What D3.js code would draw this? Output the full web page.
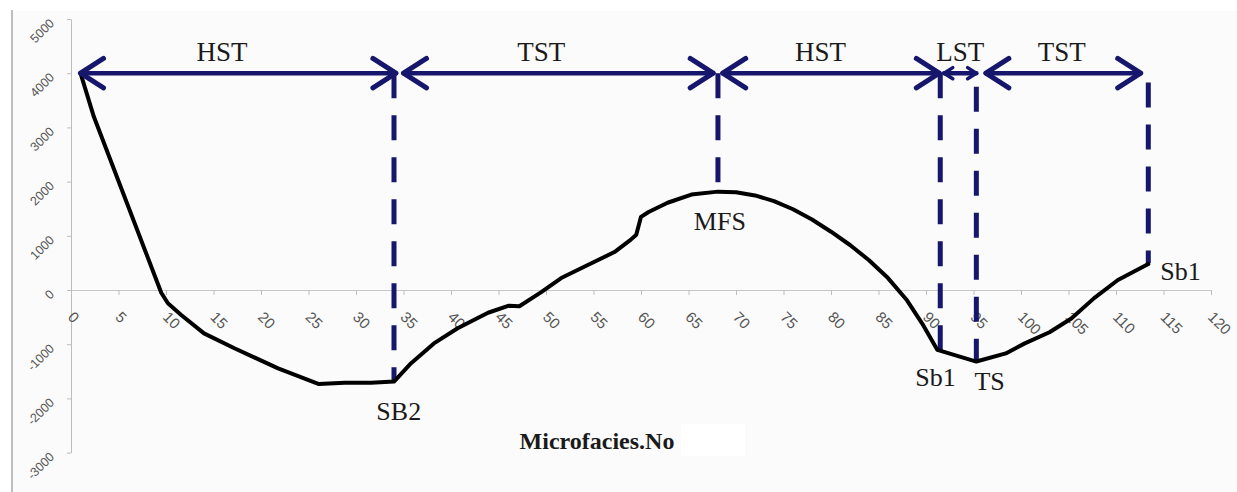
<!DOCTYPE html>
<html>
<head>
<meta charset="utf-8">
<script src="https://cdn.jsdelivr.net/npm/d3@7"></script>
<style>
  body { margin: 0; background: #ffffff; }
  svg { display: block; }
</style>
</head>
<body>
<div class="chart"></div>
<script>
// Sea-level curve data (microfacies number vs relative level)
const microfacies = [1, 2.4, 9.5, 10.2, 11.6, 14, 17.2, 21.8, 26.1, 28.8, 31.6, 34,
    35.8, 38.2, 40.7, 43.9, 46.1, 47.2, 49.5, 51.6, 54.4, 57.2, 58.9, 59.5, 60, 60.8,
    62.8, 65.3, 68.1, 70, 72, 74, 76, 78, 80, 82, 84, 86, 88, 89.6, 91.2, 95.3,
    98.4, 100.4, 103, 105.3, 107.7, 110.2, 113.4];
const seaLevel = [4000, 3200, -50, -245, -460, -800, -1075, -1445, -1735, -1710, -1710, -1690,
    -1350, -985, -705, -420, -290, -300, -40, 220, 460, 700, 925, 1020, 1350, 1440,
    1610, 1760, 1815, 1805, 1745, 1640, 1490, 1300, 1075, 830, 550, 220, -190, -620, -1105, -1320,
    -1170, -985, -780, -525, -150, 185, 480];

// Systems tracts (double arrows along the top)
const phaseNames = ['HST', 'TST', 'HST', 'LST', 'TST'];
const phaseStart = [1, 35, 68.6, 91.9, 96.3];
const phaseEnd = [34.2, 67.6, 91.4, 95.3, 112.6];
const phaseLabelX = [15.9, 49.5, 78.9, 93.6, 104.3];
const phaseLevel = 4000;

// Surfaces (dashed verticals)
const surfaceNames = ['SB2', 'MFS', 'Sb1', 'TS', 'Sb1'];
const surfaceX = [34, 68.1, 91.5, 95.3, 113.4];
const surfaceTop = [4000, 4000, 4000, 3750, 3830];
const surfaceBottom = [-1690, 1930, -1110, -1300, 500];
const surfaceLabelX = [34.5, 68.3, 91, 96.7, 116.8];
const surfaceLabelY = [-2400, 1107, -1771, -1845, 185];

const xTickValues = [0, 5, 10, 15, 20, 25, 30, 35, 40, 45, 50, 55, 60, 65, 70, 75, 80,
    85, 90, 95, 100, 105, 110, 115, 120];
const yTickValues = [-3000, -2000, -1000, 0, 1000, 2000, 3000, 4000, 5000];
const xTitle = 'Microfacies.No';

const width = 1237;
const height = 492;
const navy = '#16166c';

const x = d3.scaleLinear().domain([0, 120]).range([71, 1211]);
const y = d3.scaleLinear().domain([-3000, 5000]).range([452.6, 19]);

const svg = d3.select('.chart')
    .append('svg')
    .attr('width', width)
    .attr('height', height);

// plot background + left border
svg.append('rect')
    .attr('x', 12).attr('y', 11)
    .attr('width', width - 12).attr('height', height - 11)
    .attr('fill', '#fbfbfb');
svg.append('line')
    .attr('x1', 12).attr('x2', 12).attr('y1', 10).attr('y2', height)
    .attr('stroke', '#a8a8a8').attr('stroke-width', 1.5);

// Axes
const xAxis = svg.append('g')
    .attr('transform', `translate(0, ${y(0)})`)
    .call(d3.axisBottom(x).tickValues(xTickValues).tickSize(5).tickSizeOuter(0).tickFormat(''));
xAxis.select('.domain').attr('stroke', '#c8c8c8');
xAxis.selectAll('.tick line').attr('stroke', '#bdbdbd');

const yAxis = svg.append('g')
    .attr('transform', `translate(${x(0)}, 0)`)
    .call(d3.axisLeft(y).tickValues(yTickValues).tickSize(4).tickSizeOuter(0).tickFormat(''));
yAxis.select('.domain').attr('stroke', '#bdbdbd');
yAxis.selectAll('.tick line').attr('stroke', '#bdbdbd');

svg.append('g').selectAll('text')
    .data(xTickValues)
    .join('text')
    .attr('transform', d => `translate(${x(d) - 4}, ${y(0) + 28}) rotate(45)`)
    .attr('font-family', 'Liberation Sans, Arial, sans-serif')
    .attr('font-size', 15)
    .attr('fill', '#555')
    .text(d => d);

svg.append('g').selectAll('text')
    .data(yTickValues)
    .join('text')
    .attr('transform', d => `translate(55, ${y(d) + 5}) rotate(-45)`)
    .attr('text-anchor', 'end')
    .attr('font-family', 'Liberation Sans, Arial, sans-serif')
    .attr('font-size', 12.5)
    .attr('fill', '#555')
    .text(d => d);

svg.append('text')
    .attr('x', 597).attr('y', 449)
    .attr('text-anchor', 'middle')
    .attr('font-family', 'Liberation Serif, Times New Roman, serif')
    .attr('font-weight', 'bold')
    .attr('font-size', 24)
    .attr('fill', '#1a1a1a')
    .text(xTitle);
svg.append('rect')
    .attr('x', 681).attr('y', 424).attr('width', 64).attr('height', 32)
    .attr('fill', '#ffffff');

// Dashed surfaces
svg.append('g').selectAll('line')
    .data(surfaceX)
    .join('line')
    .attr('x1', d => x(d)).attr('x2', d => x(d))
    .attr('y1', (d, i) => y(surfaceTop[i]))
    .attr('y2', (d, i) => y(surfaceBottom[i]))
    .attr('stroke', navy)
    .attr('stroke-width', 5)
    .attr('stroke-dasharray', '25,17');

// Curve
const line = d3.line()
    .x(d => x(d[0]))
    .y(d => y(d[1]));
svg.append('path')
    .datum(d3.zip(microfacies, seaLevel))
    .attr('d', line)
    .attr('fill', 'none')
    .attr('stroke', '#000')
    .attr('stroke-width', 4)
    .attr('stroke-linejoin', 'round')
    .attr('stroke-linecap', 'round');

// Systems tract arrows
const arrowY = y(phaseLevel);
phaseNames.forEach((name, i) => {
    const x1 = x(phaseStart[i]);
    const x2 = x(phaseEnd[i]);
    const head = Math.min(23, (x2 - x1) * 0.27);
    const spread = head * 0.64;
    const g = svg.append('g')
        .attr('fill', 'none')
        .attr('stroke', navy)
        .attr('stroke-linecap', 'round')
        .attr('stroke-linejoin', 'round');
    g.append('line')
        .attr('x1', x1).attr('x2', x2)
        .attr('y1', arrowY).attr('y2', arrowY)
        .attr('stroke-width', 4.5);
    g.append('path')
        .attr('d', `M${x1 + head},${arrowY - spread}L${x1},${arrowY}L${x1 + head},${arrowY + spread}`)
        .attr('stroke-width', head < 12 ? 3.5 : 5);
    g.append('path')
        .attr('d', `M${x2 - head},${arrowY - spread}L${x2},${arrowY}L${x2 - head},${arrowY + spread}`)
        .attr('stroke-width', head < 12 ? 3.5 : 5);

    svg.append('text')
        .attr('x', x(phaseLabelX[i]))
        .attr('y', arrowY - 12)
        .attr('text-anchor', 'middle')
        .attr('font-family', 'Liberation Serif, Times New Roman, serif')
        .attr('font-size', 27)
        .attr('fill', '#1a1a1a')
        .text(name);
});

// Surface labels
svg.append('g').selectAll('text')
    .data(surfaceNames)
    .join('text')
    .attr('x', (d, i) => x(surfaceLabelX[i]))
    .attr('y', (d, i) => y(surfaceLabelY[i]))
    .attr('text-anchor', 'middle')
    .attr('font-family', 'Liberation Serif, Times New Roman, serif')
    .attr('font-size', 26)
    .attr('fill', '#1a1a1a')
    .text(d => d);
</script>
</body>
</html>
